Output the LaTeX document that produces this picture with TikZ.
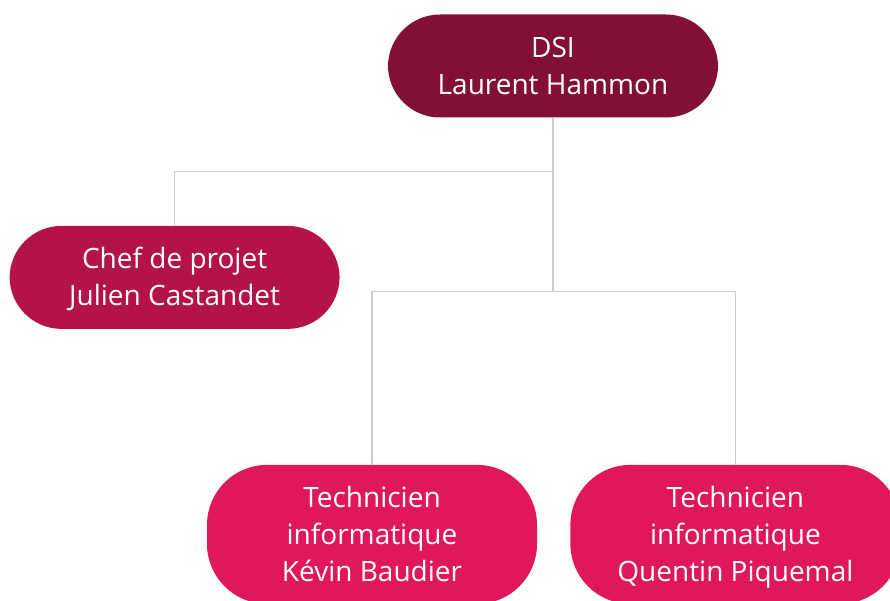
\documentclass[tikz,border=0pt]{standalone}
\usepackage{fontspec}
\setmainfont{Open Sans}
\usetikzlibrary{positioning}

\definecolor{dsired}{HTML}{820F35}
\definecolor{chefred}{HTML}{B4134A}
\definecolor{techred}{HTML}{E0175A}
\definecolor{linkgray}{HTML}{CCCCCC}

\begin{document}
\begin{tikzpicture}[x=1pt, y=1pt,
                    boxnode/.style={rectangle, rounded corners=52pt, minimum width=330pt, minimum height=103pt,
                                    inner sep=0pt, align=center, text=white, text height=57pt, text depth=0pt,
                                    font=\fontsize{28}{37}\selectfont},
                    technode/.style={boxnode, fill=techred, minimum height=139pt, rounded corners=60pt,
                                     text height=94pt},
                    link/.style={draw=linkgray, line width=1.2pt},]
    \useasboundingbox (0,0) rectangle (890,-601);
    \clip (0,0) rectangle (890,-601);
    % nodes
    \node[boxnode, fill=dsired]   (dsi)   at (553,-66)                      {DSI\\Laurent Hammon};
    \node[boxnode, fill=chefred]  (chef)  [below left=108pt and 48pt of dsi] {Chef de projet\\Julien Castandet};
    \node[technode]               (tech1) [below=347pt of dsi, xshift=-181pt] {Technicien\\informatique\\Kévin Baudier};
    \node[technode]               (tech2) [right=33pt of tech1]             {Technicien\\informatique\\Quentin Piquemal};
    % lines
    \coordinate[below=54pt of dsi.south]  (fork1);
    \coordinate[below=174pt of dsi.south] (fork2);
    \draw[link] (dsi.south) -- (fork1) -| (chef.north);
    \draw[link] (fork1) -- (fork2);
    \draw[link] (tech1.north) |- (fork2) -| (tech2.north);
\end{tikzpicture}
\end{document}
